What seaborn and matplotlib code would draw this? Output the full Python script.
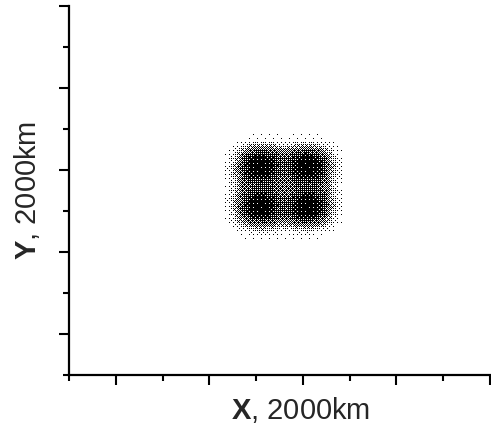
import numpy as np
import pandas as pd
import matplotlib
matplotlib.use("Agg")
import matplotlib.pyplot as plt
import seaborn as sns

# ---------------- data ----------------
# point density (fill fraction 0..1) of the scatter cloud, estimated on a
# coarse grid of cell centres (data units)
grid_x = [3.3, 3.5, 3.7, 3.9, 4.1, 4.3, 4.5, 4.7, 4.9, 5.1, 5.3, 5.5, 5.7, 5.9]
grid_y = [5.9, 5.7, 5.5, 5.3, 5.1, 4.9, 4.7, 4.5, 4.3, 4.1, 3.9, 3.7, 3.5, 3.3, 3.1]
row_y59 = [0, 0, 0, 0, 0, 0, 0, 0, 0, 0, 0, 0, 0, 0]
row_y57 = [0, 0, 0.02, 0.05, 0.08, 0.07, 0.04, 0.04, 0.07, 0.08, 0.07, 0.03, 0, 0]
row_y55 = [0, 0.05, 0.30, 0.55, 0.65, 0.60, 0.45, 0.45, 0.60, 0.65, 0.55, 0.30, 0.05, 0]
row_y53 = [0, 0.15, 0.65, 0.90, 0.95, 0.90, 0.70, 0.70, 0.90, 0.95, 0.90, 0.62, 0.15, 0]
row_y51 = [0, 0.20, 0.72, 0.95, 0.98, 0.95, 0.72, 0.72, 0.95, 0.98, 0.95, 0.72, 0.20, 0.02]
row_y49 = [0, 0.20, 0.68, 0.90, 0.95, 0.90, 0.68, 0.68, 0.90, 0.95, 0.90, 0.68, 0.18, 0.02]
row_y47 = [0, 0.16, 0.58, 0.72, 0.75, 0.72, 0.58, 0.58, 0.72, 0.75, 0.72, 0.55, 0.14, 0]
row_y45 = [0, 0.16, 0.58, 0.72, 0.75, 0.72, 0.58, 0.58, 0.72, 0.75, 0.72, 0.55, 0.14, 0]
row_y43 = [0, 0.20, 0.68, 0.90, 0.95, 0.90, 0.68, 0.68, 0.90, 0.95, 0.90, 0.68, 0.18, 0]
row_y41 = [0, 0.20, 0.72, 0.95, 0.98, 0.95, 0.72, 0.72, 0.95, 0.98, 0.95, 0.72, 0.20, 0]
row_y39 = [0, 0.15, 0.65, 0.90, 0.95, 0.90, 0.70, 0.70, 0.90, 0.95, 0.90, 0.62, 0.15, 0]
row_y37 = [0, 0.05, 0.30, 0.55, 0.62, 0.58, 0.45, 0.45, 0.58, 0.62, 0.55, 0.30, 0.04, 0]
row_y35 = [0, 0, 0.04, 0.10, 0.15, 0.12, 0.08, 0.08, 0.10, 0.12, 0.08, 0.03, 0, 0]
row_y33 = [0, 0, 0, 0.01, 0.02, 0.02, 0.01, 0.01, 0.01, 0.01, 0, 0, 0, 0]
row_y31 = [0, 0, 0, 0, 0, 0, 0, 0, 0, 0, 0, 0, 0, 0]

x_major_ticks = [1, 3, 5, 7, 9]
x_minor_ticks = [0, 2, 4, 6, 8]
y_major_ticks = [1, 3, 5, 7, 9]
y_minor_ticks = [0, 2, 4, 6, 8]
x_limits = (0, 9)
y_limits = (0, 9)
x_label = r"$\mathbf{X}$, 2000km"
y_label = r"$\mathbf{Y}$, 2000km"

density = np.array([row_y59, row_y57, row_y55, row_y53, row_y51, row_y49, row_y47,
                    row_y45, row_y43, row_y41, row_y39, row_y37, row_y35, row_y33,
                    row_y31])

# ---------------- figure ----------------
sns.set_style("ticks")
plt.rcParams["font.family"] = ["Liberation Sans", "DejaVu Sans"]
plt.rcParams["mathtext.fontset"] = "custom"
plt.rcParams["mathtext.rm"] = "Liberation Sans"
plt.rcParams["mathtext.bf"] = "Liberation Sans:bold"

W, H, DPI = 491, 427, 100
fig = plt.figure(figsize=(W / DPI, H / DPI), dpi=DPI)
ax_l, ax_b, ax_w, ax_h = 69, 51, 421, 369
ax = fig.add_axes([ax_l / W, ax_b / H, ax_w / W, ax_h / H])

# ---- rendering: halftone the density grid onto the pixel lattice ----
gx = np.array(grid_x)
gy = np.array(grid_y)[::-1]
dens = density[::-1]
px_x = np.arange(ax_w)
px_y = np.arange(ax_h)
cx = (px_x + 0.5) * (x_limits[1] - x_limits[0]) / ax_w + x_limits[0]
cy = (px_y + 0.5) * (y_limits[1] - y_limits[0]) / ax_h + y_limits[0]
sel_x = (cx >= gx[0]) & (cx <= gx[-1])
sel_y = (cy >= gy[0]) & (cy <= gy[-1])
cxs, ixs = cx[sel_x], px_x[sel_x]
cys, iys = cy[sel_y], px_y[sel_y]
rows = np.array([np.interp(cxs, gx, r) for r in dens])
field = np.array([np.interp(cys, gy, rows[:, k]) for k in range(len(cxs))]).T
bayer = np.array([[0, 32, 8, 40, 2, 34, 10, 42],
                  [48, 16, 56, 24, 50, 18, 58, 26],
                  [12, 44, 4, 36, 14, 46, 6, 38],
                  [60, 28, 52, 20, 62, 30, 54, 22],
                  [3, 35, 11, 43, 1, 33, 9, 41],
                  [51, 19, 59, 27, 49, 17, 57, 25],
                  [15, 47, 7, 39, 13, 45, 5, 37],
                  [63, 31, 55, 23, 61, 29, 53, 21]])
thr = (bayer[np.ix_(iys % 8, ixs % 8)] + 0.5) / 64.0
on = field > thr
YY, XX = np.meshgrid(cys, cxs, indexing="ij")
pts = pd.DataFrame({"x": XX[on], "y": YY[on]})

sns.scatterplot(data=pts, x="x", y="y", marker="s", s=0.55, color="black",
                linewidth=0, edgecolor="none", legend=False, ax=ax)

ax.set_xlim(*x_limits)
ax.set_ylim(*y_limits)
ax.set_xticks(x_major_ticks)
ax.set_xticks(x_minor_ticks, minor=True)
ax.set_yticks(y_major_ticks)
ax.set_yticks(y_minor_ticks, minor=True)
ax.set_xticklabels([])
ax.set_yticklabels([])
ax.tick_params(which="major", direction="out", length=7, width=1.5, color="black")
ax.tick_params(which="minor", direction="out", length=4, width=1.5, color="black")
sns.despine(ax=ax)
for s in ("left", "bottom"):
    ax.spines[s].set_linewidth(1.6)
    ax.spines[s].set_color("black")

ax.set_xlabel(x_label, fontsize=21)
ax.set_ylabel(y_label, fontsize=21)
ax.xaxis.label.set_va("center")
ax.yaxis.label.set_va("center")
ax.xaxis.set_label_coords((301 - ax_l) / ax_w, (376 - 410) / ax_h)
ax.yaxis.set_label_coords((27 - ax_l) / ax_w, (376 - 190) / ax_h)

fig.savefig("out.png", dpi=DPI)
